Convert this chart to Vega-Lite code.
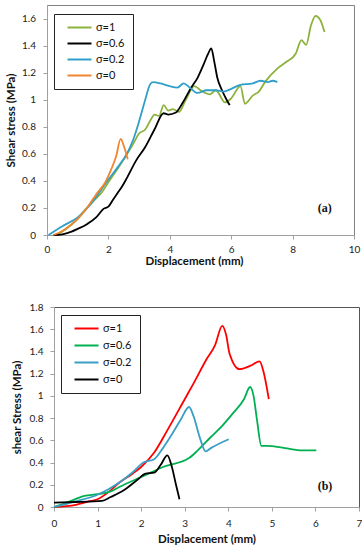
{
  "$schema": "https://vega.github.io/schema/vega-lite/v6.json",
  "padding": {"left": 4, "top": 4, "right": 0, "bottom": 0},
  "background": "white",
  "spacing": 35,
  "resolve": {
    "scale": {"x": "independent", "y": "independent", "color": "independent"},
    "legend": {"color": "independent"},
    "axis": {"x": "independent", "y": "independent"}
  },
  "config": {
    "font": "Lato",
    "axis": {
      "grid": false,
      "domainColor": "#a0a0a0",
      "tickColor": "#a0a0a0",
      "labelColor": "#222222",
      "labelFont": "Lato",
      "labelFontSize": 10,
      "labelOverlap": false,
      "labelFlush": false,
      "titleFont": "Lato",
      "titleFontSize": 11.5,
      "titleFontWeight": "bold",
      "titleColor": "#111111",
      "tickSize": 4,
      "format": ".1~f"
    },
    "legend": {
      "labelFont": "Lato",
      "labelFontSize": 11,
      "labelColor": "#111111"
    }
  },
  "datasets": {
    "a": [
      {"x": 0.3, "y": 0, "s": "σ=1"}, {"x": 0.6, "y": 0.04, "s": "σ=1"}, {"x": 1.0, "y": 0.12, "s": "σ=1"}, {"x": 1.3, "y": 0.2, "s": "σ=1"}, {"x": 1.6, "y": 0.27, "s": "σ=1"}, {"x": 1.8, "y": 0.32, "s": "σ=1"}, {"x": 2.0, "y": 0.39, "s": "σ=1"}, {"x": 2.3, "y": 0.49, "s": "σ=1"}, {"x": 2.5, "y": 0.56, "s": "σ=1"}, {"x": 2.8, "y": 0.67, "s": "σ=1"}, {"x": 3.0, "y": 0.75, "s": "σ=1"}, {"x": 3.2, "y": 0.78, "s": "σ=1"}, {"x": 3.4, "y": 0.86, "s": "σ=1"}, {"x": 3.5, "y": 0.89, "s": "σ=1"}, {"x": 3.65, "y": 0.88, "s": "σ=1"}, {"x": 3.8, "y": 0.96, "s": "σ=1"}, {"x": 3.95, "y": 0.92, "s": "σ=1"}, {"x": 4.1, "y": 0.93, "s": "σ=1"}, {"x": 4.3, "y": 0.91, "s": "σ=1"}, {"x": 4.5, "y": 0.99, "s": "σ=1"}, {"x": 4.8, "y": 1.1, "s": "σ=1"}, {"x": 5.0, "y": 1.07, "s": "σ=1"}, {"x": 5.3, "y": 1.04, "s": "σ=1"}, {"x": 5.5, "y": 1.07, "s": "σ=1"}, {"x": 5.8, "y": 0.98, "s": "σ=1"}, {"x": 6.0, "y": 1.01, "s": "σ=1"}, {"x": 6.3, "y": 1.1, "s": "σ=1"}, {"x": 6.45, "y": 0.97, "s": "σ=1"}, {"x": 6.7, "y": 1.03, "s": "σ=1"}, {"x": 6.9, "y": 1.06, "s": "σ=1"}, {"x": 7.1, "y": 1.13, "s": "σ=1"}, {"x": 7.5, "y": 1.23, "s": "σ=1"}, {"x": 7.8, "y": 1.28, "s": "σ=1"}, {"x": 8.1, "y": 1.34, "s": "σ=1"}, {"x": 8.29, "y": 1.44, "s": "σ=1"}, {"x": 8.44, "y": 1.405, "s": "σ=1"}, {"x": 8.6, "y": 1.55, "s": "σ=1"}, {"x": 8.75, "y": 1.62, "s": "σ=1"}, {"x": 8.9, "y": 1.59, "s": "σ=1"}, {"x": 9.04, "y": 1.5, "s": "σ=1"},
      {"x": 0.2, "y": 0, "s": "σ=0.6"}, {"x": 0.5, "y": 0.005, "s": "σ=0.6"}, {"x": 0.8, "y": 0.025, "s": "σ=0.6"}, {"x": 1.0, "y": 0.045, "s": "σ=0.6"}, {"x": 1.3, "y": 0.08, "s": "σ=0.6"}, {"x": 1.6, "y": 0.13, "s": "σ=0.6"}, {"x": 1.85, "y": 0.195, "s": "σ=0.6"}, {"x": 2.0, "y": 0.21, "s": "σ=0.6"}, {"x": 2.15, "y": 0.26, "s": "σ=0.6"}, {"x": 2.3, "y": 0.31, "s": "σ=0.6"}, {"x": 2.45, "y": 0.36, "s": "σ=0.6"}, {"x": 2.6, "y": 0.42, "s": "σ=0.6"}, {"x": 2.9, "y": 0.55, "s": "σ=0.6"}, {"x": 3.2, "y": 0.65, "s": "σ=0.6"}, {"x": 3.5, "y": 0.78, "s": "σ=0.6"}, {"x": 3.8, "y": 0.9, "s": "σ=0.6"}, {"x": 3.95, "y": 0.89, "s": "σ=0.6"}, {"x": 4.2, "y": 0.905, "s": "σ=0.6"}, {"x": 4.4, "y": 0.97, "s": "σ=0.6"}, {"x": 4.7, "y": 1.09, "s": "σ=0.6"}, {"x": 4.9, "y": 1.16, "s": "σ=0.6"}, {"x": 5.1, "y": 1.26, "s": "σ=0.6"}, {"x": 5.25, "y": 1.34, "s": "σ=0.6"}, {"x": 5.35, "y": 1.38, "s": "σ=0.6"}, {"x": 5.45, "y": 1.28, "s": "σ=0.6"}, {"x": 5.55, "y": 1.16, "s": "σ=0.6"}, {"x": 5.7, "y": 1.07, "s": "σ=0.6"}, {"x": 5.85, "y": 1.0, "s": "σ=0.6"}, {"x": 5.95, "y": 0.96, "s": "σ=0.6"},
      {"x": 0.05, "y": 0, "s": "σ=0.2"}, {"x": 0.5, "y": 0.065, "s": "σ=0.2"}, {"x": 1.0, "y": 0.13, "s": "σ=0.2"}, {"x": 1.5, "y": 0.25, "s": "σ=0.2"}, {"x": 2.0, "y": 0.41, "s": "σ=0.2"}, {"x": 2.3, "y": 0.5, "s": "σ=0.2"}, {"x": 2.6, "y": 0.6, "s": "σ=0.2"}, {"x": 2.8, "y": 0.7, "s": "σ=0.2"}, {"x": 3.0, "y": 0.84, "s": "σ=0.2"}, {"x": 3.2, "y": 1.0, "s": "σ=0.2"}, {"x": 3.35, "y": 1.11, "s": "σ=0.2"}, {"x": 3.45, "y": 1.13, "s": "σ=0.2"}, {"x": 3.7, "y": 1.12, "s": "σ=0.2"}, {"x": 4.0, "y": 1.1, "s": "σ=0.2"}, {"x": 4.25, "y": 1.09, "s": "σ=0.2"}, {"x": 4.45, "y": 1.12, "s": "σ=0.2"}, {"x": 4.65, "y": 1.09, "s": "σ=0.2"}, {"x": 4.9, "y": 1.05, "s": "σ=0.2"}, {"x": 5.2, "y": 1.07, "s": "σ=0.2"}, {"x": 5.5, "y": 1.07, "s": "σ=0.2"}, {"x": 5.75, "y": 1.06, "s": "σ=0.2"}, {"x": 6.0, "y": 1.08, "s": "σ=0.2"}, {"x": 6.3, "y": 1.11, "s": "σ=0.2"}, {"x": 6.7, "y": 1.12, "s": "σ=0.2"}, {"x": 6.95, "y": 1.14, "s": "σ=0.2"}, {"x": 7.2, "y": 1.13, "s": "σ=0.2"}, {"x": 7.35, "y": 1.14, "s": "σ=0.2"}, {"x": 7.5, "y": 1.13, "s": "σ=0.2"},
      {"x": 0.2, "y": 0, "s": "σ=0"}, {"x": 0.5, "y": 0.03, "s": "σ=0"}, {"x": 0.8, "y": 0.08, "s": "σ=0"}, {"x": 1.0, "y": 0.12, "s": "σ=0"}, {"x": 1.3, "y": 0.2, "s": "σ=0"}, {"x": 1.6, "y": 0.3, "s": "σ=0"}, {"x": 1.9, "y": 0.39, "s": "σ=0"}, {"x": 2.1, "y": 0.49, "s": "σ=0"}, {"x": 2.25, "y": 0.58, "s": "σ=0"}, {"x": 2.4, "y": 0.71, "s": "σ=0"}, {"x": 2.5, "y": 0.66, "s": "σ=0"}, {"x": 2.63, "y": 0.56, "s": "σ=0"}
    ],
    "b": [
      {"x": 0, "y": 0, "s": "σ=1"}, {"x": 0.5, "y": 0.02, "s": "σ=1"}, {"x": 0.8, "y": 0.05, "s": "σ=1"}, {"x": 1.0, "y": 0.07, "s": "σ=1"}, {"x": 1.3, "y": 0.15, "s": "σ=1"}, {"x": 1.5, "y": 0.22, "s": "σ=1"}, {"x": 1.8, "y": 0.3, "s": "σ=1"}, {"x": 2.0, "y": 0.36, "s": "σ=1"}, {"x": 2.3, "y": 0.49, "s": "σ=1"}, {"x": 2.6, "y": 0.69, "s": "σ=1"}, {"x": 3.0, "y": 0.97, "s": "σ=1"}, {"x": 3.2, "y": 1.11, "s": "σ=1"}, {"x": 3.5, "y": 1.33, "s": "σ=1"}, {"x": 3.7, "y": 1.46, "s": "σ=1"}, {"x": 3.86, "y": 1.63, "s": "σ=1"}, {"x": 3.95, "y": 1.55, "s": "σ=1"}, {"x": 4.03, "y": 1.38, "s": "σ=1"}, {"x": 4.26, "y": 1.24, "s": "σ=1"}, {"x": 4.5, "y": 1.27, "s": "σ=1"}, {"x": 4.72, "y": 1.31, "s": "σ=1"}, {"x": 4.8, "y": 1.23, "s": "σ=1"}, {"x": 4.93, "y": 0.97, "s": "σ=1"},
      {"x": 0, "y": 0, "s": "σ=0.6"}, {"x": 0.3, "y": 0.04, "s": "σ=0.6"}, {"x": 0.7, "y": 0.1, "s": "σ=0.6"}, {"x": 1.0, "y": 0.115, "s": "σ=0.6"}, {"x": 1.3, "y": 0.14, "s": "σ=0.6"}, {"x": 1.5, "y": 0.18, "s": "σ=0.6"}, {"x": 2.0, "y": 0.27, "s": "σ=0.6"}, {"x": 2.5, "y": 0.36, "s": "σ=0.6"}, {"x": 3.1, "y": 0.44, "s": "σ=0.6"}, {"x": 3.3, "y": 0.51, "s": "σ=0.6"}, {"x": 3.6, "y": 0.63, "s": "σ=0.6"}, {"x": 3.86, "y": 0.73, "s": "σ=0.6"}, {"x": 4.1, "y": 0.84, "s": "σ=0.6"}, {"x": 4.36, "y": 0.97, "s": "σ=0.6"}, {"x": 4.5, "y": 1.08, "s": "σ=0.6"}, {"x": 4.58, "y": 1.0, "s": "σ=0.6"}, {"x": 4.66, "y": 0.78, "s": "σ=0.6"}, {"x": 4.76, "y": 0.55, "s": "σ=0.6"}, {"x": 4.9, "y": 0.55, "s": "σ=0.6"}, {"x": 5.3, "y": 0.53, "s": "σ=0.6"}, {"x": 5.7, "y": 0.51, "s": "σ=0.6"}, {"x": 6.02, "y": 0.51, "s": "σ=0.6"},
      {"x": 0, "y": 0, "s": "σ=0.2"}, {"x": 0.5, "y": 0.05, "s": "σ=0.2"}, {"x": 1.0, "y": 0.11, "s": "σ=0.2"}, {"x": 1.5, "y": 0.22, "s": "σ=0.2"}, {"x": 1.8, "y": 0.31, "s": "σ=0.2"}, {"x": 2.05, "y": 0.4, "s": "σ=0.2"}, {"x": 2.3, "y": 0.43, "s": "σ=0.2"}, {"x": 2.5, "y": 0.53, "s": "σ=0.2"}, {"x": 2.7, "y": 0.65, "s": "σ=0.2"}, {"x": 2.9, "y": 0.78, "s": "σ=0.2"}, {"x": 3.1, "y": 0.9, "s": "σ=0.2"}, {"x": 3.2, "y": 0.82, "s": "σ=0.2"}, {"x": 3.35, "y": 0.62, "s": "σ=0.2"}, {"x": 3.48, "y": 0.5, "s": "σ=0.2"}, {"x": 3.6, "y": 0.53, "s": "σ=0.2"}, {"x": 4.01, "y": 0.61, "s": "σ=0.2"},
      {"x": 0, "y": 0.04, "s": "σ=0"}, {"x": 0.5, "y": 0.045, "s": "σ=0"}, {"x": 1.1, "y": 0.055, "s": "σ=0"}, {"x": 1.3, "y": 0.09, "s": "σ=0"}, {"x": 1.6, "y": 0.15, "s": "σ=0"}, {"x": 1.9, "y": 0.24, "s": "σ=0"}, {"x": 2.1, "y": 0.3, "s": "σ=0"}, {"x": 2.3, "y": 0.31, "s": "σ=0"}, {"x": 2.45, "y": 0.38, "s": "σ=0"}, {"x": 2.6, "y": 0.465, "s": "σ=0"}, {"x": 2.7, "y": 0.37, "s": "σ=0"}, {"x": 2.8, "y": 0.2, "s": "σ=0"}, {"x": 2.88, "y": 0.07, "s": "σ=0"}
    ],
    "labA": [{"x": 9.05, "y": 0.2, "t": "(a)"}],
    "labB": [{"x": 6.22, "y": 0.19, "t": "(b)"}]
  },
  "vconcat": [
    {
      "width": 307,
      "height": 230,
      "view": {"stroke": "#808080"},
      "encoding": {
        "x": {"field": "x", "type": "quantitative", "scale": {"domain": [0, 10], "nice": false},
              "axis": {"values": [0, 2, 4, 6, 8, 10], "title": "Displacement (mm)", "labelPadding": 5, "titlePadding": 1, "titleX": 147}},
        "y": {"field": "y", "type": "quantitative", "scale": {"domain": [0, 1.7], "nice": false},
              "axis": {"values": [0, 0.2, 0.4, 0.6, 0.8, 1, 1.2, 1.4, 1.6], "title": "Shear stress (MPa)", "labelPadding": 7.5, "titleX": -36, "titleBaseline": "middle"}}
      },
      "layer": [
        {
          "data": {"name": "a"},
          "mark": {"type": "line", "interpolate": "monotone", "strokeWidth": 1.8},
          "encoding": {
            "color": {"field": "s", "type": "nominal",
                      "scale": {"domain": ["σ=1", "σ=0.6", "σ=0.2", "σ=0"], "range": ["#8db23c", "#000000", "#2f9fc8", "#f0852f"]},
                      "legend": {"orient": "none", "legendX": 7, "legendY": 9, "title": null, "symbolType": "M0,0H8", "symbolSize": 36, "symbolStrokeWidth": 2, "labelOffset": 23, "padding": 8, "rowPadding": 4, "strokeColor": "#222222", "fillColor": "white"}}
          }
        },
        {
          "data": {"name": "labA"},
          "mark": {"type": "text", "font": "Liberation Serif", "fontWeight": "bold", "fontSize": 12, "color": "#111111"},
          "encoding": {
            "text": {"field": "t"}
          }
        }
      ]
    },
    {
      "width": 312,
      "height": 200,
      "view": {"stroke": null},
      "resolve": {"axis": {"x": "independent", "y": "independent"}},
      "layer": [
        {
          "data": {"name": "b"},
          "mark": {"type": "line", "interpolate": "monotone", "strokeWidth": 1.8},
          "encoding": {
            "x": {"field": "x", "type": "quantitative", "scale": {"domain": [0, 7], "nice": false, "range": [7, 312]},
                  "axis": {"values": [0, 1, 2, 3, 4, 5, 6, 7], "title": "Displacement (mm)", "labelPadding": 7, "titlePadding": 5}},
            "y": {"field": "y", "type": "quantitative", "scale": {"domain": [0, 1.8], "nice": false},
                  "axis": {"values": [0, 0.2, 0.4, 0.6, 0.8, 1, 1.2, 1.4, 1.6, 1.8], "title": "shear Stress (MPa)", "labelPadding": 7, "offset": -7, "titleX": -36.5, "titleBaseline": "middle"}},
            "color": {"field": "s", "type": "nominal",
                      "scale": {"domain": ["σ=1", "σ=0.6", "σ=0.2", "σ=0"], "range": ["#ff0000", "#00b050", "#3a9fc4", "#000000"]},
                      "legend": {"orient": "none", "legendX": 14, "legendY": 8, "title": null, "symbolType": "M0,0H8", "symbolSize": 36, "symbolStrokeWidth": 2, "labelOffset": 23, "padding": 8, "rowPadding": 5, "strokeColor": "#222222", "fillColor": "white"}}
          }
        },
        {
          "data": {"name": "labB"},
          "mark": {"type": "text", "font": "Liberation Serif", "fontWeight": "bold", "fontSize": 12, "color": "#111111"},
          "encoding": {
            "x": {"field": "x", "type": "quantitative", "scale": {"domain": [0, 7], "nice": false, "range": [7, 312]},
                  "axis": {"orient": "top", "labels": false, "ticks": false, "title": null, "domainColor": "#555555"}},
            "y": {"field": "y", "type": "quantitative", "scale": {"domain": [0, 1.8], "nice": false},
                  "axis": {"orient": "right", "labels": false, "ticks": false, "title": null, "domainColor": "#555555"}},
            "text": {"field": "t"}
          }
        }
      ]
    }
  ]
}
